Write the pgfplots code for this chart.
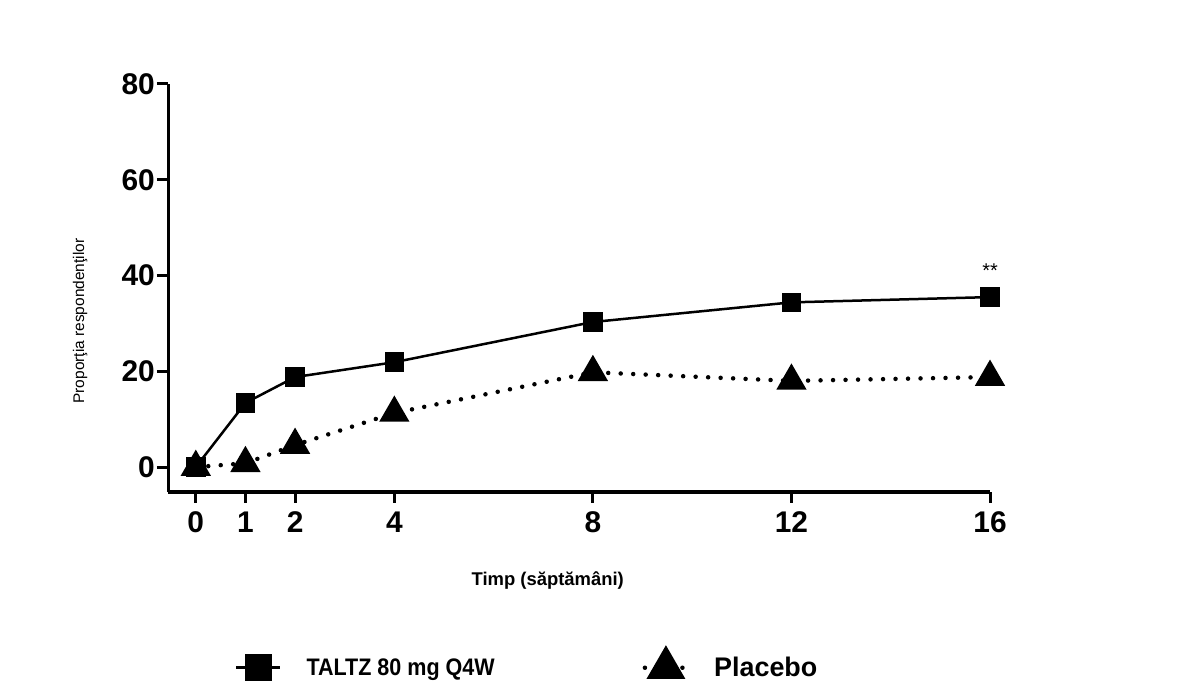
\documentclass[border=0pt]{standalone}
\usepackage{fontspec}
\setmainfont{Liberation Sans}
\usepackage{graphicx}
\usepackage{pgfplots}
\pgfplotsset{compat=1.18}
\pgfplotsset{
  legtri/.style={legend image code/.code={\draw[mark repeat=2,mark phase=2,##1,mark size=18bp] plot coordinates {(0bp,0bp)(21bp,0bp)(42bp,0bp)};}},
  legsq/.style={legend image code/.code={\draw[mark repeat=2,mark phase=2,##1,mark size=12bp] plot coordinates {(0bp,0bp)(22bp,0bp)(44bp,0bp)};}},
}
\begin{document}
\begin{tikzpicture}
\begin{axis}[
  at={(168bp,191bp)}, anchor=south west,
  scale only axis, width=822bp, height=408bp,
  xmin=-0.56, xmax=16, ymin=-5.2, ymax=80,
  axis x line*=bottom, axis y line*=left,
  xtick={0,1,2,4,8,12,16}, ytick={0,20,40,60,80},
  tick align=outside, major tick length=11bp,
  axis line style={line width=3bp, black},
  major tick style={line width=3bp, black},
  /pgf/number format/assume math mode=true,
  tick label style={font=\fontsize{30}{30}\selectfont\bfseries, inner sep=2bp},
  xticklabel style={yshift=-6bp, text height=21.5bp, text depth=0bp},
  xlabel={Timp (săptămâni)},
  xlabel style={at={(axis description cs:0.462,-0.216)}, anchor=center, font=\fontsize{18.5}{18.5}\selectfont\bfseries},
  ylabel={Proporţia respondenţilor},
  ylabel style={at={(axis description cs:-0.107,0.419)}, anchor=center, font=\fontsize{15.5}{15.5}\selectfont},
  clip=false,
  reverse legend,
  legend columns=2,
  legend style={at={(axis description cs:0.437,-0.424)}, anchor=center, draw=none, fill=none,
    font=\bfseries,
    /tikz/every odd column/.append style={column sep=23bp},
    /tikz/every even column/.append style={column sep=146bp}},
]
\addplot[black, line width=4.5bp, line cap=round, dash pattern=on 0pt off 12.5bp,
  mark=triangle*, mark size=13bp, mark options={solid, fill=black}, legtri]
  coordinates {(0,0) (1,0.8) (2,4.6) (4,11.3) (8,19.8) (12,18.0) (16,18.8)};
\addlegendentry{\fontsize{27}{27}\selectfont Placebo}
\addplot[black, line width=2.5bp,
  mark=square*, mark size=8.5bp, mark options={solid, fill=black}, legsq]
  coordinates {(0,0) (1,13.4) (2,18.8) (4,21.9) (8,30.3) (12,34.4) (16,35.5)};
\addlegendentry{\scalebox{0.9}[1]{\fontsize{24}{24}\selectfont TALTZ 80 mg Q4W}}
\node[anchor=base, font=\fontsize{20}{20}\selectfont] at (axis cs:16,39.5) {**};
\end{axis}
\pgfresetboundingbox
\path[use as bounding box] (0bp,0bp) rectangle (1201bp,683bp);
\end{tikzpicture}
\end{document}
